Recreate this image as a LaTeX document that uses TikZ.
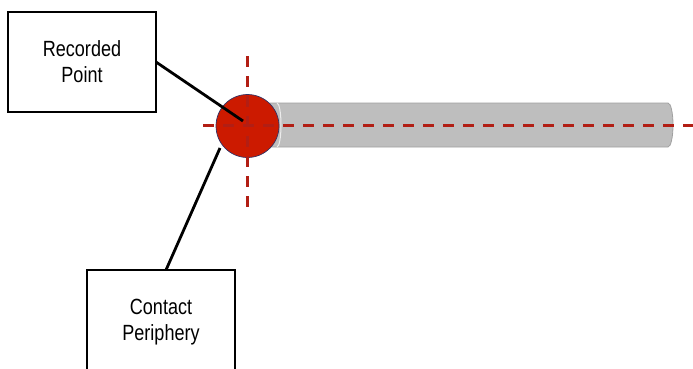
\documentclass[tikz,border=0pt]{standalone}
\usepackage{fontspec}
\setmainfont{Liberation Sans}[FakeStretch=0.82]
\definecolor{dashred}{RGB}{178,30,20}
\definecolor{ballred}{RGB}{204,26,0}
\definecolor{rodfill}{RGB}{190,190,190}
\definecolor{rodedge}{RGB}{160,160,160}
\definecolor{balledge}{RGB}{50,50,100}
\begin{document}
\begin{tikzpicture}[x=1pt,y=1pt,
  labelbox/.style={draw=black,line width=2.4pt,fill=white,align=center,
    font=\fontsize{22}{27}\selectfont,inner sep=0pt},
  leader/.style={draw=black,line width=2.8pt},
  axis/.style={draw=dashred,line width=3pt,dash pattern=on 11pt off 9pt}]
\useasboundingbox (0,0) rectangle (693,-368);
\clip (0,0) rectangle (693,-368);
% rod
\path[fill=rodfill,draw=rodedge,line width=0.8pt]
  (247,-103) -- (668,-103) arc[start angle=90,end angle=-90,x radius=5,y radius=22] -- (247,-147) -- cycle;
\draw[white!85!gray,line width=1pt] (277,-103) arc[start angle=90,end angle=-90,x radius=4,y radius=22];
% ball
\node[circle,fill=ballred,draw=balledge,line width=0.7pt,minimum size=63pt,inner sep=0pt] (ball) at (247.5,-126) {};
% axes
\coordinate (hs) at (203,-125);
\coordinate (he) at (700,-125);
\coordinate (vs) at (247,-56);
\coordinate (ve) at (247,-208);
\draw[axis] (hs) -- (he);
\draw[axis] (vs) -- (ve);
% boxes
\node[labelbox,minimum width=148pt,minimum height=100pt] (rec) at (82,-62) {Recorded\\[-1pt]Point};
\node[labelbox,minimum width=148pt,minimum height=120pt] (con) at (161,-330) {};
\node[align=center,font=\fontsize{22}{27}\selectfont,inner sep=0pt] (contxt) at (161,-322) {Contact\\[-1pt]Periphery};
% leaders
\coordinate (recend) at (243,-121);
\coordinate (conend) at (220,-148);
\draw[leader] (156,-62) -- (recend);
\draw[leader] (166,-270) -- (conend);
\end{tikzpicture}
\end{document}
